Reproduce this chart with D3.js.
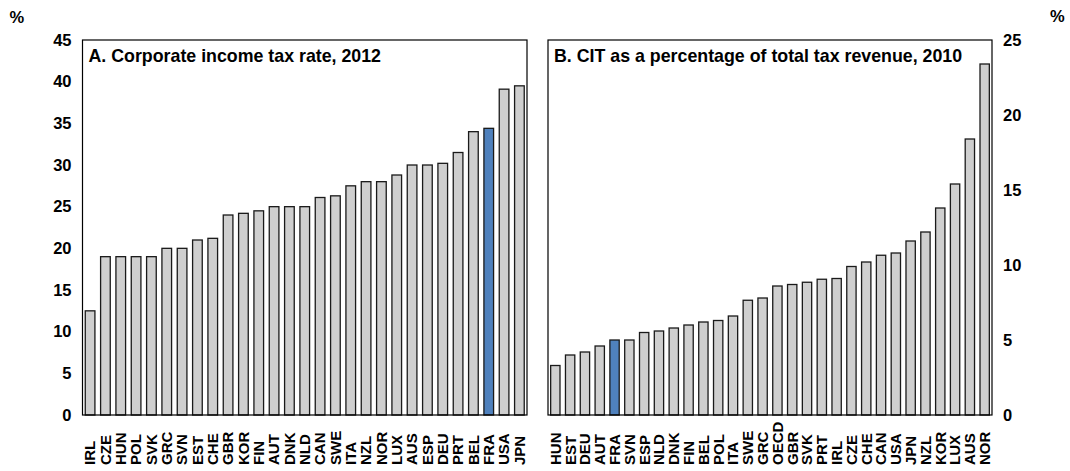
<!doctype html>
<html>
<head>
	<meta charset="UTF-8">
	<title>CIT</title>
	<style>
		body { margin: 0; background: #ffffff; }
		#container { font-size: 0; }
		text { font-family: "Liberation Sans", Arial, sans-serif; font-weight: bold; fill: #000; }
	</style>
</head>
<body>
<div id="container"></div>
<script src="https://cdn.jsdelivr.net/npm/d3@7"></script>
<script>
	var w = 1070;
	var h = 471;

	// panel A: corporate income tax rate, 2012
	var catsA = ["IRL", "CZE", "HUN", "POL", "SVK", "GRC", "SVN", "EST", "CHE", "GBR", "KOR", "FIN", "AUT", "DNK", "NLD",
		"CAN", "SWE", "ITA", "NZL", "NOR", "LUX", "AUS", "ESP", "DEU", "PRT", "BEL", "FRA", "USA", "JPN"];
	var valsA = [12.5, 19, 19, 19, 19, 20, 20, 21, 21.2, 24, 24.2, 24.5, 25, 25, 25,
		26.1, 26.3, 27.5, 28, 28, 28.8, 30, 30, 30.2, 31.5, 34, 34.4, 39.1, 39.5];
	var ticksA = [0, 5, 10, 15, 20, 25, 30, 35, 40, 45];

	// panel B: CIT as % of total tax revenue, 2010
	var catsB = ["HUN", "EST", "DEU", "AUT", "FRA", "SVN", "ESP", "NLD", "DNK", "FIN", "BEL", "POL", "ITA", "SWE", "GRC",
		"OECD", "GBR", "SVK", "PRT", "IRL", "CZE", "CHE", "CAN", "USA", "JPN", "NZL", "KOR", "LUX", "AUS", "NOR"];
	var valsB = [3.3, 4.0, 4.2, 4.6, 5.0, 5.0, 5.5, 5.6, 5.8, 6.0, 6.2, 6.3, 6.6, 7.65, 7.8,
		8.6, 8.7, 8.85, 9.05, 9.1, 9.9, 10.2, 10.65, 10.8, 11.6, 12.2, 13.8, 15.4, 18.4, 23.4];
	var ticksB = [0, 5, 10, 15, 20, 25];

	var highlight = "FRA";

	var svg = d3.select("#container")
			.append("svg")
			.attr("width", w)
			.attr("height", h);

	var yTop = 40, yBottom = 415;

	function panel(cats, vals, ticks, x0, x1, side, title) {
		var xScale = d3.scaleBand()
				.domain(cats)
				.range([x0, x1])
				.paddingInner(0.37)
				.paddingOuter(0.18);
		var yScale = d3.scaleLinear()
				.domain([0, d3.max(ticks)])
				.range([yBottom, yTop]);

		var g = svg.append("g");

		// bars
		g.selectAll("rect.bar")
				.data(cats)
				.enter()
				.append("rect")
				.attr("class", "bar")
				.attr("x", function (d) { return xScale(d); })
				.attr("y", function (d, i) { return yScale(vals[i]); })
				.attr("width", xScale.bandwidth())
				.attr("height", function (d, i) { return yBottom - yScale(vals[i]); })
				.attr("fill", function (d) { return d === highlight ? "#4f81bd" : "#cfcfcf"; })
				.attr("stroke", "#1a1a1a")
				.attr("stroke-width", 1.3);

		// frame
		g.append("rect")
				.attr("x", x0)
				.attr("y", yTop)
				.attr("width", x1 - x0)
				.attr("height", yBottom - yTop)
				.attr("fill", "none")
				.attr("stroke", "#000")
				.attr("stroke-width", 1.2);

		// y axis
		var axis = side === "left" ? d3.axisLeft(yScale) : d3.axisRight(yScale);
		axis.tickValues(ticks).tickSize(0).tickPadding(11);
		var ax = g.append("g")
				.attr("transform", "translate(" + (side === "left" ? x0 : x1) + ",0)")
				.call(axis);
		ax.select(".domain").remove();
		ax.selectAll("text")
				.attr("font-size", 16.5)
				.attr("font-family", null);

		// category labels
		g.selectAll("text.cat")
				.data(cats)
				.enter()
				.append("text")
				.attr("class", "cat")
				.attr("transform", function (d) {
					return "translate(" + (xScale(d) + xScale.bandwidth() / 2) + ",465) rotate(-90)";
				})
				.attr("dy", "0.36em")
				.attr("font-size", 15)
				.text(function (d) { return d; });

		// title
		g.append("text")
				.attr("x", x0 + 6)
				.attr("y", 62)
				.attr("font-size", 17.8)
				.text(title);
	}

	panel(catsA, valsA, ticksA, 82.5, 527, "left", "A. Corporate income tax rate, 2012");
	panel(catsB, valsB, ticksB, 548, 992, "right", "B. CIT as a percentage of total tax revenue, 2010");

	svg.append("text").attr("x", 9.5).attr("y", 22.5).attr("font-size", 16.5).text("%");
	svg.append("text").attr("x", 1050).attr("y", 22).attr("font-size", 16.5).text("%");
</script>
</body>
</html>
